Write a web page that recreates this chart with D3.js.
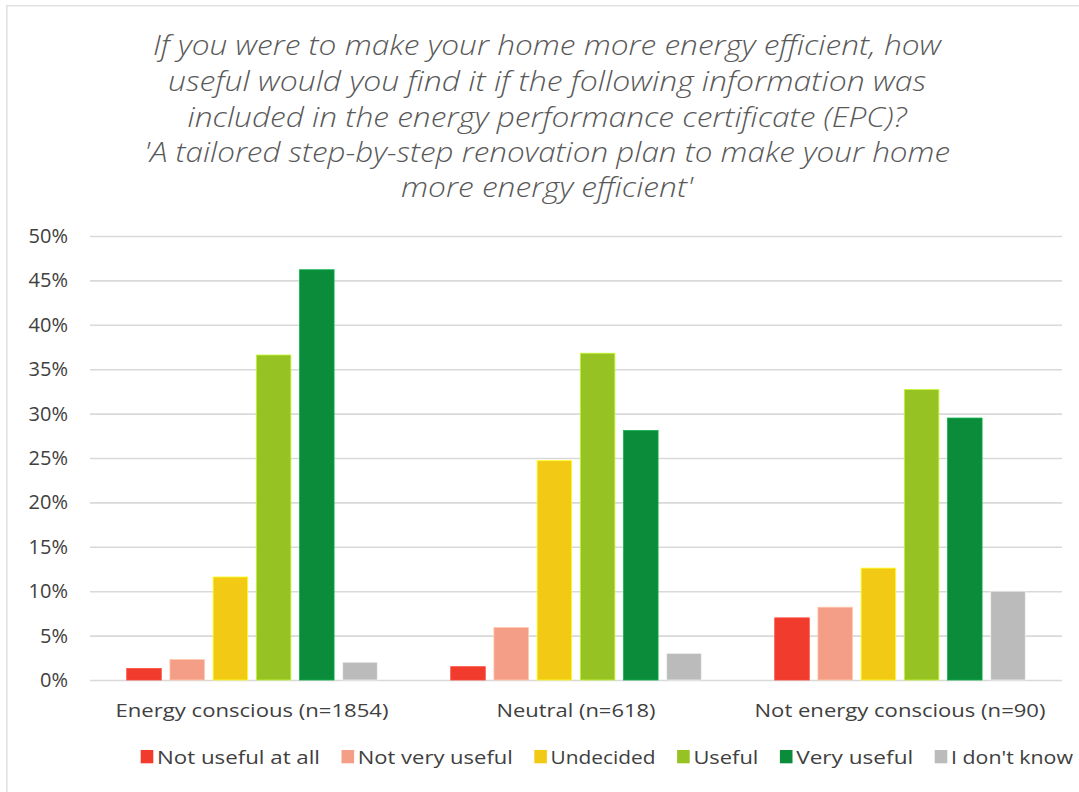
<!DOCTYPE html>
<html><head><meta charset="utf-8">
<script src="https://cdn.jsdelivr.net/npm/d3@7"></script>
<style>body{margin:0;background:#fff;} svg{display:block;}</style>
</head><body><svg id="chart" width="1079" height="792"></svg>
<script>
// ---- data ----
const titleLines = [
  "If you were to make your home more energy efficient, how",
  "useful would you find it if the following information was",
  "included in the energy performance certificate (EPC)?",
  "'A tailored step-by-step renovation plan to make your home",
  "more energy efficient'"
];
const categories = ["Energy conscious (n=1854)", "Neutral (n=618)", "Not energy conscious (n=90)"];
const seriesNames = ["Not useful at all", "Not very useful", "Undecided", "Useful", "Very useful", "I don't know"];
const seriesColors = ["#f03b2d", "#f49d87", "#f2ca16", "#97c224", "#0a8c3a", "#bbbbbb"];
const notUsefulAtAll = [1.3, 1.5, 7.0];
const notVeryUseful  = [2.3, 5.9, 8.2];
const undecided      = [11.6, 24.7, 12.6];
const useful         = [36.6, 36.8, 32.7];
const veryUseful     = [46.2, 28.1, 29.5];
const dontKnow       = [2.0, 3.0, 10.0];
const yTicks = [0, 5, 10, 15, 20, 25, 30, 35, 40, 45, 50];

const seriesValues = [notUsefulAtAll, notVeryUseful, undecided, useful, veryUseful, dontKnow];

// ---- layout ----
const W = 1079, H = 792;
const plot = {left: 90, right: 1062, top: 236, bottom: 680};
const FONT = "'Open Sans', 'DejaVu Sans', sans-serif";
const TEXT = "#404040";

const svg = d3.select("#chart");
svg.append("rect").attr("width", W).attr("height", H).attr("fill", "#fff");
svg.append("rect").attr("x", 6.8).attr("y", 5.7).attr("width", 1200).attr("height", 900)
  .attr("fill", "none").attr("stroke", "#e2e2e2").attr("stroke-width", 1.6);

function fit(sel, target) {
  sel.each(function () {
    const w = this.getComputedTextLength();
    if (Math.abs(w - target) / target > 0.01) {
      d3.select(this).attr("textLength", target).attr("lengthAdjust", "spacingAndGlyphs");
    }
  });
}

// title
const titleWidths = [788, 758, 719, 806, 292];
const titleBase = [55, 91, 126.5, 162, 197];
titleLines.forEach((t, i) => {
  const el = svg.append("text")
    .attr("x", 547).attr("y", titleBase[i])
    .attr("text-anchor", "middle")
    .attr("font-family", FONT).attr("font-style", "italic").attr("font-weight", 300)
    .attr("font-size", 27).attr("fill", "#595959")
    .text(t);
  fit(el, titleWidths[i]);
});

// scales
const y = d3.scaleLinear().domain([0, 50]).range([plot.bottom, plot.top]);
const x0 = d3.scaleBand().domain(categories).range([plot.left, plot.right]).padding(0);
const groupSpan = x0.bandwidth() * 0.8;
const x1 = d3.scaleBand().domain(seriesNames)
  .range([(x0.bandwidth() - groupSpan) / 2, (x0.bandwidth() + groupSpan) / 2])
  .paddingInner(0.2).paddingOuter(0.1);
const color = d3.scaleOrdinal().domain(seriesNames).range(seriesColors);

// y axis + grid
const yAxis = svg.append("g").attr("transform", `translate(${plot.left},0)`)
  .call(d3.axisLeft(y).tickValues(yTicks).tickFormat(d => d + "%")
    .tickSizeInner(-(plot.right - plot.left)).tickSizeOuter(0).tickPadding(22));
yAxis.select(".domain").remove();
yAxis.selectAll(".tick line").attr("stroke", "#d9d9d9").attr("stroke-width", 1.6);
yAxis.selectAll(".tick text").attr("font-family", FONT).attr("font-size", 20).attr("fill", TEXT);

// bars
const groups = svg.append("g").selectAll("g").data(categories).join("g")
  .attr("transform", d => `translate(${x0(d)},0)`);
groups.selectAll("rect")
  .data((c, ci) => seriesNames.map((s, si) => ({s, v: seriesValues[si][ci]})))
  .join("rect")
  .attr("x", d => x1(d.s))
  .attr("width", x1.bandwidth())
  .attr("y", d => y(d.v))
  .attr("height", d => y(0) - y(d.v))
  .attr("fill", d => color(d.s))
  .attr("stroke", d => d3.color(color(d.s)).brighter(0.7))
  .attr("stroke-width", 0.8);

// x axis labels
const xAxis = svg.append("g").attr("transform", `translate(0,${plot.bottom})`)
  .call(d3.axisBottom(x0).tickSize(0).tickPadding(24));
xAxis.select(".domain").remove();
const xWidths = [273, 159, 291];
xAxis.selectAll(".tick text").attr("font-family", FONT).attr("font-size", 19).attr("fill", TEXT)
  .each(function (d, i) { fit(d3.select(this), xWidths[i]); });

// legend
const legendWidths = [163, 155, 105, 65, 117, 122];
const legend = svg.append("g");
let lx = 140.7;
seriesNames.forEach((s, i) => {
  legend.append("rect").attr("x", lx).attr("y", 750).attr("width", 12.6).attr("height", 13.3)
    .attr("fill", color(s));
  const t = legend.append("text").attr("x", lx + 16.3).attr("y", 763.5)
    .attr("font-family", FONT).attr("font-size", 19).attr("fill", TEXT).text(s);
  t.attr("textLength", legendWidths[i]).attr("lengthAdjust", "spacingAndGlyphs");
  lx = lx + 16.3 + legendWidths[i] + 21.5;
});
</script></body></html>
